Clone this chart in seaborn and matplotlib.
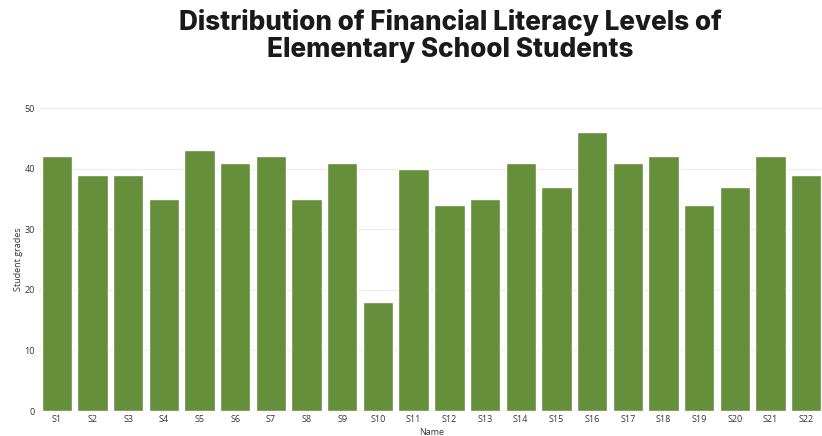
import matplotlib
matplotlib.use("Agg")
import matplotlib.pyplot as plt
import seaborn as sns
import pandas as pd

names = [f"S{i}" for i in range(1, 23)]
grades = [42, 39, 39, 35, 43, 41, 42, 35, 41, 18, 40,
          34, 35, 41, 37, 46, 41, 42, 34, 37, 42, 39]
y_ticks = [0, 10, 20, 30, 40, 50]

df = pd.DataFrame({"Name": names, "Student grades": grades})

sns.set_theme(style="white")
plt.rcParams["font.family"] = ["Open Sans", "DejaVu Sans"]

fig = plt.figure(figsize=(8.22, 4.36), dpi=100)
ax = fig.add_axes([39 / 822, 25 / 436, 785 / 822, 303 / 436])

sns.barplot(data=df, x="Name", y="Student grades", color="#658f3a",
            saturation=1, width=0.85, ax=ax, zorder=3)

ax.set_xlim(-0.5, 21.5)
ax.set_ylim(0, 50)
ax.set_yticks(y_ticks)
ax.grid(axis="y", color="#ebebeb", linewidth=0.8, zorder=0)
for s in ax.spines.values():
    s.set_visible(False)
ax.tick_params(axis="both", length=0, labelsize=6.5, colors="#333333", pad=3)
ax.set_xlabel("Name", fontsize=6.5, color="#333333", labelpad=3)
ax.set_ylabel("Student grades", fontsize=6.5, color="#333333", labelpad=1)

title_kw = dict(ha="center", va="center", fontsize=18.8, fontweight="heavy",
                color="#1a1a1a", family=["Inter", "DejaVu Sans"])
fig.text(450 / 822, 1 - 22 / 436, "Distribution of Financial Literacy Levels of", **title_kw)
fig.text(450 / 822, 1 - 50 / 436, "Elementary School Students", **title_kw)

fig.savefig("out.png", dpi=100, facecolor="white")
